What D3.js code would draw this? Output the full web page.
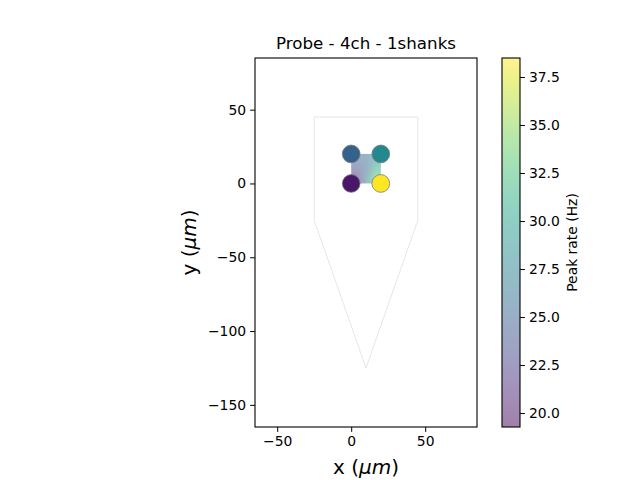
<!DOCTYPE html>
<html>
<head>
<meta charset="utf-8">
<script src="https://cdn.jsdelivr.net/npm/d3@7"></script>
<style>
  body { margin: 0; background: #fff; }
  text { font-family: "DejaVu Sans", sans-serif; fill: #000; }
</style>
</head>
<body>
<svg id="chart" width="640" height="480"></svg>
<script>
// contacts (um) and their peak rate (Hz)
const contactX = [0, 0, 20, 20];
const contactY = [0, 20, 0, 20];
const peakRate = [20.4, 25.3, 38.5, 28.3];

// probe outline (um)
const contourX = [-25, -25, 10, 45, 45];
const contourY = [45, -25, -125, -25, 45];

// interpolated rate map over the contacts, rows top -> bottom (Hz)
const mapRows = [
  [25.0, 26.0, 28.3],
  [23.1, 25.4, 31.2],
  [20.6, 27.0, 33.1]
];

const xTicks = [-50, 0, 50];
const yTicks = [-150, -100, -50, 0, 50];
const cbTicks = [20.0, 22.5, 25.0, 27.5, 30.0, 32.5, 35.0, 37.5];
const rateMin = 19.27, rateMax = 38.49;

const svg = d3.select("#chart");
const ax = { left: 255, right: 477, top: 58, bottom: 427 };

const x = d3.scaleLinear().domain([-65, 85]).range([ax.left, ax.right]);
const y = d3.scaleLinear().domain([-165, 85]).range([ax.bottom, ax.top]);
const color = d3.scaleSequential(d3.interpolateViridis).domain([rateMin, rateMax]);

// probe shape
const pts = contourX.map((d, i) => [x(d), y(contourY[i])]);
svg.append("polygon")
  .attr("points", pts.map(p => p.join(",")).join(" "))
  .attr("fill", "#fff")
  .attr("stroke", "#e6e6e6")
  .attr("stroke-width", 1);

// interpolated map as a small smoothed image
const cv = document.createElement("canvas");
cv.width = mapRows[0].length;
cv.height = mapRows.length;
const ctx = cv.getContext("2d");
const img = ctx.createImageData(cv.width, cv.height);
mapRows.forEach((row, r) => row.forEach((v, c) => {
  const col = d3.rgb(color(v));
  const k = (r * cv.width + c) * 4;
  img.data[k] = col.r; img.data[k + 1] = col.g; img.data[k + 2] = col.b; img.data[k + 3] = 128;
}));
ctx.putImageData(img, 0, 0);
svg.append("image")
  .attr("href", cv.toDataURL())
  .attr("x", x(d3.min(contactX)))
  .attr("y", y(d3.max(contactY)))
  .attr("width", x(d3.max(contactX)) - x(d3.min(contactX)))
  .attr("height", y(d3.min(contactY)) - y(d3.max(contactY)))
  .attr("preserveAspectRatio", "none");

// contacts
const r = x(6) - x(0);
svg.selectAll(".contact")
  .data(peakRate)
  .enter().append("circle")
  .attr("class", "contact")
  .attr("cx", (d, i) => x(contactX[i]))
  .attr("cy", (d, i) => y(contactY[i]))
  .attr("r", r)
  .attr("fill", d => color(d))
  .attr("stroke", "#7a7a7a")
  .attr("stroke-width", 0.8);

// axes
const xAxis = d3.axisBottom(x).tickValues(xTicks).tickFormat(d => d < 0 ? "\u2212" + Math.abs(d) : d).tickSize(4.9).tickPadding(4);
const yAxis = d3.axisLeft(y).tickValues(yTicks).tickFormat(d => d < 0 ? "\u2212" + Math.abs(d) : d).tickSize(4.9).tickPadding(4);

const gx = svg.append("g").attr("transform", `translate(0,${ax.bottom})`).call(xAxis);
const gy = svg.append("g").attr("transform", `translate(${ax.left},0)`).call(yAxis);
[gx, gy].forEach(g => {
  g.select(".domain").remove();
  g.selectAll("line").attr("stroke", "#000").attr("stroke-width", 1);
  g.selectAll("text").style("font-size", "13.9px").style("font-family", "DejaVu Sans");
});

svg.append("rect")
  .attr("x", ax.left).attr("y", ax.top)
  .attr("width", ax.right - ax.left).attr("height", ax.bottom - ax.top)
  .attr("fill", "none").attr("stroke", "#000").attr("stroke-width", 1.1);

// labels
svg.append("text")
  .attr("x", (ax.left + ax.right) / 2).attr("y", 49)
  .attr("text-anchor", "middle").style("font-size", "16.7px")
  .text("Probe - 4ch - 1shanks");

const xl = svg.append("text")
  .attr("x", (ax.left + ax.right) / 2).attr("y", 474)
  .attr("text-anchor", "middle").style("font-size", "20px");
xl.append("tspan").text("x (");
xl.append("tspan").style("font-style", "italic").text("\u03bcm");
xl.append("tspan").text(")");

const yl = svg.append("text")
  .attr("transform", `translate(196,${(ax.top + ax.bottom) / 2}) rotate(-90)`)
  .attr("text-anchor", "middle").style("font-size", "20px");
yl.append("tspan").text("y (");
yl.append("tspan").style("font-style", "italic").text("\u03bcm");
yl.append("tspan").text(")");

// colorbar
const cb = { left: 502, right: 520, top: 58, bottom: 427 };
const cy = d3.scaleLinear().domain([rateMin, rateMax]).range([cb.bottom, cb.top]);
const grad = svg.append("defs").append("linearGradient")
  .attr("id", "cbgrad").attr("x1", 0).attr("y1", 1).attr("x2", 0).attr("y2", 0);
d3.range(0, 1.0001, 0.05).forEach(t => {
  grad.append("stop").attr("offset", t).attr("stop-color", d3.interpolateViridis(t));
});
svg.append("rect")
  .attr("x", cb.left).attr("y", cb.top)
  .attr("width", cb.right - cb.left).attr("height", cb.bottom - cb.top)
  .attr("fill", "url(#cbgrad)").attr("fill-opacity", 0.5);
svg.append("rect")
  .attr("x", cb.left).attr("y", cb.top)
  .attr("width", cb.right - cb.left).attr("height", cb.bottom - cb.top)
  .attr("fill", "none").attr("stroke", "#000").attr("stroke-width", 1.1);

const gc = svg.append("g").attr("transform", `translate(${cb.right},0)`)
  .call(d3.axisRight(cy).tickValues(cbTicks).tickFormat(d3.format(".1f")).tickSize(4.9).tickPadding(4));
gc.select(".domain").remove();
gc.selectAll("line").attr("stroke", "#000").attr("stroke-width", 1);
gc.selectAll("text").style("font-size", "13.9px").style("font-family", "DejaVu Sans");

svg.append("text")
  .attr("transform", `translate(577,${(cb.top + cb.bottom) / 2}) rotate(-90)`)
  .attr("text-anchor", "middle").style("font-size", "13.9px")
  .text("Peak rate (Hz)");
</script>
</body>
</html>
